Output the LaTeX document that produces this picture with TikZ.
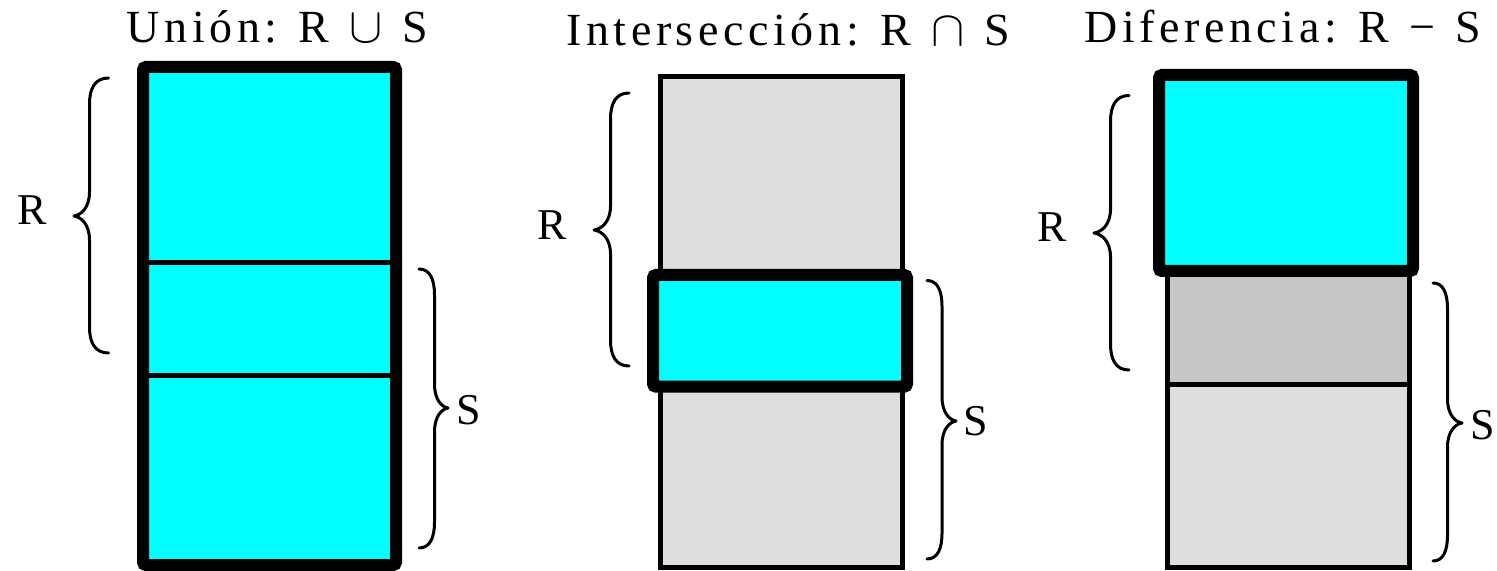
\documentclass[tikz,border=0pt]{standalone}
\usepackage{fontspec}
\setmainfont{Liberation Serif}
\definecolor{cyanc}{HTML}{00FFFF}
\definecolor{lightg}{HTML}{DEDEDE}
\definecolor{darkg}{HTML}{C6C6C6}
\newcommand\titlefont{\fontsize{23}{27}\selectfont\addfontfeature{LetterSpace=10}}
\newcommand\lblfont{\fontsize{22}{26}\selectfont}
\newcommand\opgap{\hspace{10pt}}
% xv, xe, xtip, ytop, ytip, ybottom
\newcommand\drawbrace[6]{%
  \draw[bracestyle] (#2,#4) .. controls ({#1+0.3*(#2-#1)},#4) and (#1,{#4+10}) .. (#1,{#4+26})
    -- (#1,{#5-24}) .. controls (#1,{#5-8}) and ({#3+0.45*(#1-#3)},{#5-1}) .. (#3,#5)
    .. controls ({#3+0.45*(#1-#3)},{#5+1}) and (#1,{#5+8}) .. (#1,{#5+24})
    -- (#1,{#6-26}) .. controls (#1,{#6-10}) and ({#1+0.3*(#2-#1)},#6) .. (#2,#6);}
\begin{document}
\begin{tikzpicture}[x=0.5pt,y=-0.5pt,
  thickbox/.style={line width=6pt, rounded corners=1.5pt, draw=black, fill=cyanc},
  thinbox/.style={line width=2.5pt, draw=black},
  bracestyle/.style={line width=1.5pt, line cap=round, line join=round},
  titletext/.style={font=\titlefont, anchor=base, inner sep=0pt},
  lbl/.style={font=\lblfont, anchor=base, inner sep=0pt}]
\useasboundingbox (0,0) rectangle (1497,571);

% ---- Union ----
\node[titletext] (t1) at (277.5,43) {Unión: R\opgap$\cup$\opgap S};
\fill[cyanc] (143,67) rectangle (396,565);
\draw[thinbox] (143,263) -- (396,263);
\draw[thinbox] (143,375) -- (396,375);
\draw[thickbox, fill=none] (143,67) rectangle (396,565);
\drawbrace{89.5}{108.5}{74}{78}{216}{353}
\drawbrace{434.5}{419}{448}{269}{408}{548}
\node[lbl] (r1) at (32,225) {R};
\node[lbl] (s1) at (469,424) {S};

% ---- Interseccion ----
\node[titletext] (t2) at (788,45.5) {Intersección: R\opgap$\cap$\opgap S};
\draw[thinbox, fill=lightg] (660.5,77) rectangle (902.5,567.5);
\draw[thickbox] (653,275) rectangle (907,386.7);
\drawbrace{610.5}{629}{594}{93}{230}{366}
\drawbrace{942}{927}{956}{280.5}{421}{559}
\node[lbl] (r2) at (552,240) {R};
\node[lbl] (s2) at (976,435) {S};

% ---- Diferencia ----
\node[titletext] (t3) at (1282.5,43) {Diferencia: R\opgap−\opgap S};
\draw[thinbox, fill=darkg] (1167.5,200) rectangle (1409.5,384.5);
\draw[thinbox, fill=lightg] (1167.5,384.5) rectangle (1409.5,567.5);
\draw[thickbox] (1159,75) rectangle (1413,271);
\drawbrace{1110.5}{1129}{1094}{95.5}{233}{370}
\drawbrace{1447.5}{1433}{1462}{283}{423}{561}
\node[lbl] (r3) at (1052,242) {R};
\node[lbl] (s3) at (1482.5,439) {S};
\end{tikzpicture}
\end{document}
